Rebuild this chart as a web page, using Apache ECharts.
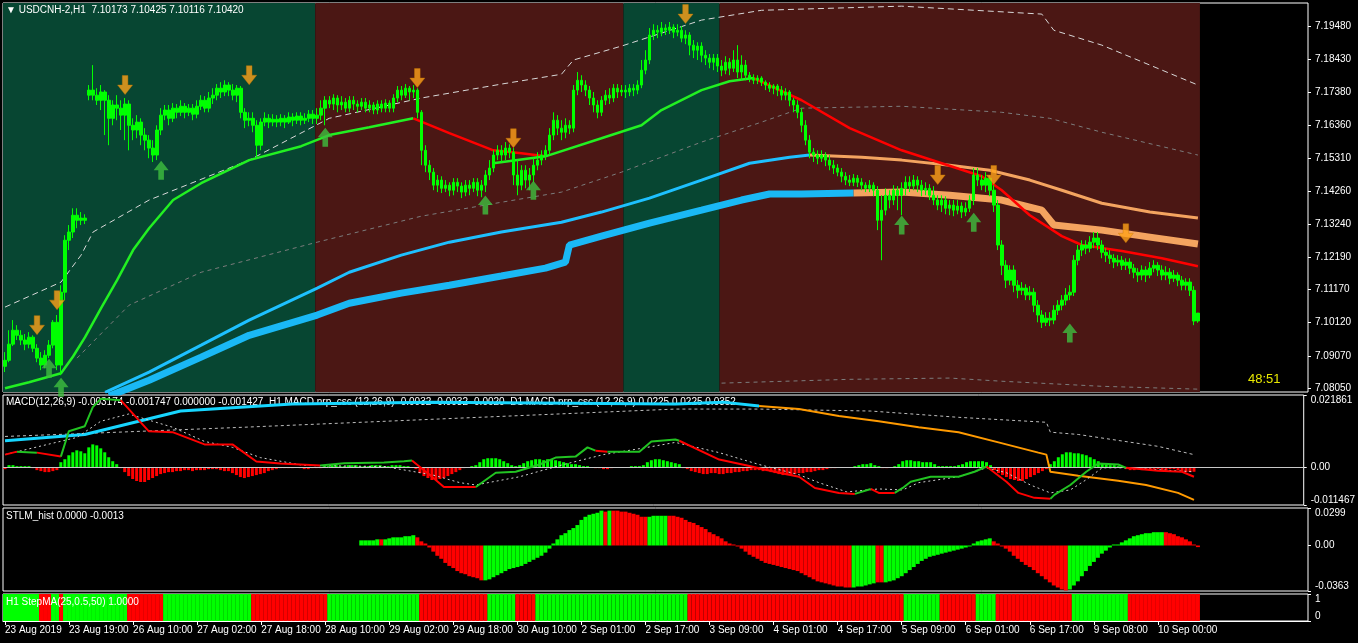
<!DOCTYPE html>
<html><head><meta charset="utf-8">
<script src="https://cdn.jsdelivr.net/npm/echarts@6/dist/echarts.min.js"></script>
<style>html,body{margin:0;padding:0;background:#000;}#c{width:1358px;height:643px;}</style>
</head><body><div id="c"></div>
<script>
// ---------------- DATA ----------------
const tickBars = [0,16,32,48,64,80,96,112,128,144,160,176,192,208,224,240,256,272,288];
const tickLabels = ['23 Aug 2019','23 Aug 19:00','26 Aug 10:00','27 Aug 02:00','27 Aug 18:00','28 Aug 10:00','29 Aug 02:00','29 Aug 18:00','30 Aug 10:00','2 Sep 01:00','2 Sep 17:00','3 Sep 09:00','4 Sep 01:00','4 Sep 17:00','5 Sep 09:00','6 Sep 01:00','6 Sep 17:00','9 Sep 08:00','10 Sep 00:00'];
const priceTicks = [7.08050,7.09070,7.10120,7.11170,7.12190,7.13240,7.14260,7.15310,7.16360,7.17380,7.18430,7.19480];
const lastPrice = 7.10420;
// H1 candles: [open, close, low, high] in 0.0001 above 7.0000
const candles = [
[874,893,856,919],[893,944,887,988],[944,988,938,1020],[988,972,957,1004],[972,957,941,988],[957,944,925,976],[944,966,931,982],[966,931,919,972],[931,900,887,944],[900,878,862,919],
[878,909,868,925],[909,941,900,957],[941,1013,931,1020],[1013,878,862,1036],[878,1108,846,1130],[1108,1272,1083,1288],[1272,1298,1241,1320],[1298,1351,1279,1373],[1351,1335,1310,1373],[1335,1342,1320,1361],
[1342,1335,1323,1354],[1730,1746,1714,1762],[1746,1730,1714,1825],[1730,1714,1699,1752],[1714,1740,1683,1762],[1740,1714,1604,1746],[1714,1657,1572,1730],[1657,1699,1635,1714],[1699,1689,1651,1730],[1689,1667,1620,1714],
[1667,1702,1588,1721],[1702,1635,1556,1714],[1635,1620,1588,1657],[1620,1645,1594,1667],[1645,1604,1572,1657],[1604,1588,1556,1626],[1588,1563,1531,1604],[1563,1541,1519,1588],[1541,1620,1525,1635],[1620,1667,1604,1689],
[1667,1683,1651,1699],[1683,1657,1635,1699],[1657,1689,1645,1705],[1689,1676,1657,1702],[1676,1695,1664,1714],[1695,1676,1657,1705],[1676,1689,1664,1702],[1689,1670,1651,1702],[1670,1695,1657,1714],[1695,1714,1683,1730],
[1714,1689,1676,1727],[1689,1721,1676,1740],[1721,1730,1702,1752],[1730,1752,1714,1765],[1752,1740,1721,1771],[1740,1762,1727,1777],[1762,1746,1727,1771],[1746,1730,1714,1765],[1730,1752,1708,1762],[1752,1676,1657,1759],
[1676,1651,1626,1689],[1651,1657,1632,1676],[1657,1635,1613,1676],[1635,1572,1531,1651],[1572,1645,1556,1657],[1645,1657,1632,1676],[1657,1645,1626,1670],[1645,1654,1632,1670],[1654,1645,1629,1667],[1645,1657,1632,1670],
[1657,1645,1626,1667],[1645,1661,1639,1676],[1661,1651,1632,1673],[1651,1664,1639,1676],[1664,1651,1635,1676],[1651,1657,1639,1673],[1657,1670,1645,1683],[1670,1657,1639,1683],[1657,1667,1639,1689],[1667,1689,1651,1714],
[1689,1714,1635,1727],[1714,1702,1689,1727],[1702,1721,1683,1733],[1721,1699,1676,1730],[1699,1708,1683,1727],[1708,1689,1676,1721],[1689,1714,1676,1727],[1714,1702,1683,1727],[1702,1695,1676,1714],[1695,1708,1683,1721],
[1708,1689,1676,1721],[1689,1699,1676,1714],[1699,1683,1670,1708],[1683,1702,1670,1714],[1702,1689,1676,1714],[1689,1705,1676,1717],[1705,1689,1676,1714],[1689,1721,1676,1733],[1721,1746,1708,1759],[1746,1730,1714,1759],
[1730,1752,1721,1765],[1752,1740,1714,1759],[1740,1746,1721,1762],[1746,1676,1657,1752],[1676,1556,1509,1683],[1556,1509,1487,1572],[1509,1487,1462,1525],[1487,1446,1430,1500],[1446,1462,1424,1478],[1462,1436,1421,1474],
[1436,1446,1424,1462],[1446,1430,1411,1455],[1430,1455,1414,1468],[1455,1443,1424,1468],[1443,1424,1405,1455],[1424,1446,1411,1462],[1446,1436,1414,1462],[1436,1455,1424,1468],[1455,1430,1411,1468],[1430,1446,1408,1462],
[1446,1478,1424,1493],[1478,1500,1462,1525],[1500,1541,1487,1556],[1541,1556,1525,1572],[1556,1541,1519,1572],[1541,1563,1525,1582],[1563,1550,1531,1575],[1550,1478,1446,1563],[1478,1446,1414,1525],[1446,1493,1430,1509],
[1493,1462,1436,1509],[1462,1478,1430,1500],[1478,1509,1455,1531],[1509,1525,1493,1550],[1525,1541,1509,1556],[1541,1556,1525,1572],[1556,1604,1541,1626],[1604,1651,1588,1676],[1651,1626,1604,1667],[1626,1613,1588,1651],
[1613,1635,1594,1657],[1635,1626,1607,1651],[1626,1746,1613,1762],[1746,1777,1730,1803],[1777,1762,1740,1793],[1762,1746,1727,1777],[1746,1721,1699,1759],[1721,1699,1676,1740],[1699,1676,1657,1714],[1676,1714,1664,1727],
[1714,1730,1699,1746],[1730,1721,1702,1752],[1721,1752,1708,1765],[1752,1740,1721,1765],[1740,1746,1727,1762],[1746,1740,1721,1762],[1740,1752,1727,1765],[1752,1746,1727,1765],[1746,1762,1733,1777],[1762,1809,1752,1841],
[1809,1841,1796,1872],[1841,1920,1828,1942],[1920,1935,1904,1954],[1935,1929,1910,1951],[1929,1942,1916,1961],[1942,1935,1920,1954],[1935,1945,1923,1961],[1945,1929,1910,1954],[1929,1935,1916,1954],[1935,1910,1897,1948],
[1910,1920,1891,1935],[1920,1888,1856,1929],[1888,1872,1847,1904],[1872,1885,1841,1897],[1885,1856,1834,1897],[1856,1847,1825,1872],[1847,1834,1815,1860],[1834,1847,1809,1860],[1847,1822,1803,1860],[1822,1809,1790,1841],
[1809,1834,1796,1853],[1834,1815,1793,1847],[1815,1841,1803,1872],[1841,1803,1784,1888],[1803,1825,1777,1856],[1825,1793,1777,1841],[1793,1784,1771,1803],[1784,1777,1765,1796],[1777,1784,1765,1793],[1784,1771,1759,1790],
[1771,1762,1746,1777],[1762,1752,1740,1771],[1752,1759,1733,1765],[1759,1746,1727,1765],[1746,1730,1714,1759],[1730,1740,1714,1752],[1740,1714,1695,1746],[1714,1699,1676,1721],[1699,1676,1657,1714],[1676,1635,1613,1689],
[1635,1588,1572,1651],[1588,1550,1531,1604],[1550,1541,1519,1563],[1541,1531,1512,1556],[1531,1541,1519,1556],[1541,1525,1506,1550],[1525,1509,1493,1541],[1509,1500,1481,1525],[1500,1487,1474,1512],[1487,1474,1455,1500],
[1474,1462,1446,1487],[1462,1455,1443,1478],[1455,1468,1443,1481],[1468,1455,1440,1478],[1455,1446,1430,1468],[1446,1436,1424,1455],[1436,1446,1424,1462],[1446,1430,1411,1455],[1430,1335,1304,1443],[1335,1367,1209,1414],
[1367,1414,1351,1436],[1414,1399,1373,1430],[1399,1430,1383,1446],[1430,1414,1367,1443],[1414,1436,1351,1455],[1436,1455,1414,1474],[1455,1443,1424,1474],[1443,1462,1430,1478],[1462,1446,1424,1474],[1446,1430,1411,1462],
[1430,1436,1414,1455],[1436,1414,1399,1449],[1414,1399,1383,1443],[1399,1383,1367,1414],[1383,1399,1361,1414],[1399,1373,1354,1411],[1373,1383,1351,1399],[1383,1367,1348,1399],[1367,1380,1354,1399],[1380,1361,1342,1392],
[1361,1373,1348,1392],[1373,1399,1361,1414],[1399,1478,1383,1500],[1478,1462,1443,1500],[1462,1446,1430,1478],[1446,1468,1424,1487],[1468,1430,1411,1478],[1430,1383,1361,1446],[1383,1257,1241,1399],[1257,1193,1162,1272],
[1193,1146,1121,1209],[1146,1178,1130,1193],[1178,1130,1108,1193],[1130,1114,1089,1146],[1114,1121,1099,1140],[1121,1099,1083,1133],[1099,1108,1083,1127],[1108,1067,1045,1121],[1067,1036,1013,1083],[1036,1013,995,1051],
[1013,1026,1001,1045],[1026,1020,1001,1045],[1020,1051,1007,1067],[1051,1067,1036,1083],[1067,1083,1051,1099],[1083,1099,1067,1121],[1099,1108,1083,1130],[1108,1209,1096,1225],[1209,1241,1193,1257],[1241,1257,1222,1272],
[1257,1247,1228,1272],[1247,1266,1234,1285],[1266,1279,1247,1298],[1279,1257,1241,1298],[1257,1234,1215,1272],[1234,1225,1203,1247],[1225,1215,1197,1241],[1215,1203,1184,1228],[1203,1209,1190,1225],[1209,1193,1178,1222],
[1193,1203,1178,1215],[1203,1184,1165,1215],[1184,1171,1152,1197],[1171,1162,1140,1184],[1162,1178,1146,1193],[1178,1162,1140,1190],[1162,1184,1152,1203],[1184,1193,1171,1209],[1193,1178,1159,1203],[1178,1162,1146,1193],
[1162,1171,1146,1190],[1171,1152,1133,1184],[1152,1162,1140,1178],[1162,1146,1127,1171],[1146,1130,1114,1159],[1130,1140,1114,1152],[1140,1114,1096,1152],[1114,1017,1004,1127],[1017.3,1042,1011.6,1042.5]
];
const zones = [[0,77,1],[78,154,0],[155,178,1],[179,298,0]];
const fastMaUp1 = [[0,805],[6,824],[14,852],[17,905],[20,966],[24,1058],[28,1146],[32,1241],[36,1310],[42,1399],[49,1452],[61,1525],[74,1569],[81,1604],[91,1629],[102,1657]];
const fastMaDn1 = [[102,1657],[111,1610],[122,1556],[129,1547],[135,1537]];
const fastMaUp2 = [[122,1515],[135,1537],[149,1594],[159,1635],[164,1683],[174,1746],[181,1774],[187,1784]];
const fastMaDn2 = [[187,1784],[199,1714],[211,1626],[224,1556],[234,1515],[244,1474],[249,1430],[256,1351],[264,1285],[269,1257],[279,1238],[289,1215],[298,1190]];
const midMaUp = [[25,792],[36,856],[49,941],[61,1020],[78,1121],[86,1171],[99,1225],[111,1266],[124,1298],[139,1329],[149,1361],[161,1405],[174,1462],[186,1515],[196,1534],[201,1541]];
const midMaDn = [[201,1541],[214,1534],[224,1525],[236,1509],[246,1493],[256,1462],[264,1430],[274,1389],[286,1361],[298,1342]];
const slowMaUp = [[26,780],[36,830],[49,903],[61,972],[78,1036],[86,1073],[99,1105],[111,1130],[124,1159],[135,1184],[140,1203],[141,1257],[149,1285],[161,1326],[174,1367],[184,1399],[191,1418],[199,1418],[212,1421]];
const slowMaDn = [[212,1421],[224,1424],[236,1414],[249,1399],[259,1367],[262,1320],[274,1304],[286,1282],[298,1260]];
const bandUpper = [[0,1061],[14,1140],[19,1225],[22,1298],[36,1399],[61,1525],[81,1657],[104,1721],[124,1765],[139,1796],[142,1841],[154,1885],[174,1967],[189,1998],[224,2011],[259,1986],[262,1935],[274,1888],[298,1762]];
const bandMid = [[18,900],[31,1067],[49,1171],[78,1266],[104,1348],[124,1392],[139,1424],[154,1487],[174,1582],[189,1645],[199,1689],[224,1695],[249,1676],[261,1657],[274,1613],[298,1541]];
const bandLower = [[179,821],[211,833],[236,837],[249,827],[274,811],[298,802]];
const sellArrows = [[8,1004],[13,1083],[30,1762],[61,1793],[103,1784],[127,1594],[170,1986],[233,1478],[247,1478],[280,1294]];
const buyArrows = [[11,868],[14,808],[39,1493],[80,1597],[120,1383],[132,1430],[224,1320],[242,1329],[266,979]];
const macdHist = [-6,6,6,3,3,3,3,-3,-9,-12,-15,-15,-12,-9,15,24,36,45,51,48,42,60,69,66,57,45,30,18,9,-3,
-15,-27,-36,-42,-45,-45,-39,-33,-27,-21,-18,-15,-15,-12,-12,-9,-9,-12,-9,-9,-9,-6,-6,-6,-9,-12,
-12,-18,-24,-30,-33,-30,-27,-24,-21,-18,-12,-9,-6,-3,-3,-3,-3,0,-3,-6,-6,-3,-3,-3,
3,3,6,6,3,3,6,6,6,3,3,3,6,6,6,3,3,6,6,6,3,3,0,
-6,-18,-27,-33,-39,-39,-36,-33,-27,-21,-15,-9,-3,0,3,6,15,24,27,27,27,24,18,12,6,3,
6,12,18,21,24,24,21,24,24,21,18,15,12,9,9,6,3,3,0,-3,-3,-6,-6,-3,0,0,0,0,3,3,3,
6,15,21,24,24,21,18,15,12,9,
-3,-6,-12,-15,-18,-21,-21,-18,-18,-21,-21,-18,-18,-15,-15,-12,-12,-9,-9,-9,-12,-12,-15,-18,-21,-24,-24,-24,-21,-18,-18,-15,-15,-12,-9,-9,-6,-3,-3,0,0,
0,0,3,6,9,9,12,6,3,-3,-3,0,3,9,18,21,21,18,18,15,15,15,9,3,3,3,3,3,6,9,15,18,18,18,18,15,6,
-9,-18,-24,-30,-36,-39,-42,-42,-36,-30,-24,-18,-12,-6,
9,18,30,39,45,45,42,42,39,36,30,24,18,12,9,6,6,3,3,
-6,-9,-9,-6,-9,-6,-9,-6,-6,-9,-9,-6,-6,-9,-12,-15,-15,-14];
const macdMain = [
['r',[[0,38],[3,47]]],['g',[[3,47],[8,44]]],['r',[[8,44],[14,32]]],
['g',[[14,32],[16,109],[20,124],[22,182],[24,207],[29,203]]],
['r',[[29,203],[36,109],[42,106],[50,69],[57,69],[63,17],[69,11],[79,5]]],
['g',[[79,5],[85,12],[95,14],[100,18],[102,20]]],
['r',[[102,20],[107,-29],[110,-60],[118,-60]]],
['g',[[118,-60],[123,-17],[128,-14],[134,8],[138,29],[143,32],[146,60],[148,50]]],
['r',[[148,50],[151,47]]],
['g',[[151,47],[159,47],[162,78],[168,84],[169,80]]],
['r',[[169,80],[179,23],[186,5],[194,-17],[199,-29],[203,-63],[209,-78],[213,-81]]],
['g',[[213,-81],[217,-66]]],['r',[[217,-66],[219,-78],[223,-78]]],
['g',[[223,-78],[225,-63],[227,-44],[232,-29],[239,-29],[243,-14],[246,2]]],
['r',[[246,2],[251,-44],[254,-78],[258,-93],[262,-96]]],
['g',[[262,-96],[263,-84],[267,-54],[271,-14],[274,11],[279,8],[281,-2]]],
['r',[[281,-2],[289,-11],[295,-14],[298,-29]]]
];
const macdSignal = [[0,38],[18,90],[24,139],[31,161],[37,139],[42,121],[50,78],[57,60],[64,29],[75,5],[95,2],[107,-23],[114,-47],[118,-54],[129,-29],[140,8],[150,38],[161,60],[168,75],[179,44],[189,8],[199,-23],[204,-47],[211,-75],[219,-66],[225,-69],[229,-47],[239,-29],[246,-2],[251,-17],[257,-54],[262,-78],[267,-69],[271,-38],[275,-2],[281,-2],[289,-8],[298,-14]];
const d1MacdUp = [[0,80],[20,99],[44,170],[72,191],[107,197],[168,191],[180,197],[189,185]];
const d1MacdDn = [[189,185],[199,176],[209,155],[219,139],[229,121],[239,106],[249,75],[259,44],[261,38],[262,-14],[269,-26],[279,-41],[286,-54],[294,-78],[298,-99]];
const d1Signal = [[0,93],[20,102],[60,121],[107,145],[168,176],[189,176],[217,170],[239,151],[261,136],[262,106],[269,99],[289,63],[298,38]];
const stlmStart = 89;
const stlmValues = [41,41,41,41,49,49,49,57,65,65,65,74,74,82,
65,33,16,-16,-49,-82,-106,-139,-163,-180,-204,-221,-229,-245,-253,-261,-278,
-278,-270,-253,-237,-221,-204,-188,-180,-172,-163,-147,-131,-114,-98,-82,-57,-25,16,49,82,98,123,139,163,204,229,245,253,261,278,
270,278,278,278,270,270,261,253,245,229,229,229,237,237,237,237,
237,237,229,221,204,188,180,163,147,131,106,90,74,57,33,16,8,
-8,-25,-49,-74,-90,-106,-123,-139,-147,-155,-163,-172,-180,-188,-196,-204,-221,-237,-253,-270,-286,-294,-302,-310,-319,-327,-327,-335,-335,
-335,-327,-327,-319,-310,-302,-294,-294,
-294,-286,-278,-261,-245,-221,-196,-172,-147,-123,-106,-90,-82,-74,-65,-57,-49,-41,-33,-25,-16,-8,16,33,41,49,57,
33,16,-8,-25,-49,-82,-106,-131,-155,-172,-196,-221,-245,-270,-294,-319,-335,-351,-359,
-351,-319,-286,-245,-204,-163,-131,-98,-65,-41,-16,8,8,25,41,57,74,82,90,98,98,106,106,106,
106,98,90,74,65,49,33,8,-13];
const stlmRuns = [['G',5],['R',1],['G',8],['R',17],['G',30],['R',1],['G',1],['R',9],['G',5],['R',46],['G',6],['R',2],['G',27],['R',19],['G',24],['R',9]];
const stepRuns = [['G',9],['R',3],['G',2],['R',1],['G',16],['R',9],['G',22],['R',19],['G',23],['R',17],['G',7],['R',5],['G',38],['R',54],['G',9],['R',9],['G',5],['R',19],['G',14],['R',18]];

// ---------------- BUILD ----------------
const FONT = 'Liberation Sans';
const N_SLOTS = 326;
const slots = Array.from({length:N_SLOTS},(_,i)=>String(i));
const tickMap = {}; tickBars.forEach((b,k)=>{tickMap[b]=tickLabels[k];});
const P = v => 7 + v/10000;
const M = v => v/10000;
const GREEN_BG = '#074632', RED_BG = '#4b1714';
const LIME = '#00ff00', RED = '#ff0000';

function line(pts, conv, color, width, z, xi, opts) {
  return Object.assign({type:'line', xAxisIndex:xi, yAxisIndex:xi, data:pts.map(p=>[p[0], conv(p[1])]),
    symbol:'none', silent:true, z:z, lineStyle:{color:color, width:width}}, opts||{});
}
function expandRuns(runs, start) {
  const out = []; let i = start;
  runs.forEach(([c,n]) => { for (let k=0;k<n;k++) out.push([i++, c]); });
  return out;
}

const series = [];
series.push({type:'custom', xAxisIndex:0, yAxisIndex:0, z:1, silent:true, data:zones, encode:{x:[0,1]},
  renderItem:(params, api) => {
    const w = api.size([1,0])[0];
    const x0 = api.coord([api.value(0), 7.1])[0] - w/2;
    const x1 = api.coord([api.value(1), 7.1])[0] + w/2;
    const cs = params.coordSys;
    return {type:'rect', shape:{x:x0, y:cs.y, width:x1-x0, height:cs.height}, style:{fill: api.value(2)===1 ? GREEN_BG : RED_BG}};
  }});
series.push(line(bandUpper, P, '#d8d8d8', 1, 3, 0, {lineStyle:{color:'#d8d8d8', width:1, type:[6,4]}}));
series.push(line(bandMid, P, '#7c7c7c', 1, 3, 0, {lineStyle:{color:'#7c7c7c', width:1, type:[4,4]}}));
series.push(line(bandLower, P, '#7c7c7c', 1, 3, 0, {lineStyle:{color:'#7c7c7c', width:1, type:[4,4]}}));
series.push(line(slowMaUp, P, '#1ab8f5', 7, 3, 0));
series.push(line(slowMaDn, P, '#f4a460', 7, 3, 0));
series.push(line(midMaUp, P, '#1ec0ff', 3, 3, 0));
series.push(line(midMaDn, P, '#f4a460', 3, 3, 0));
series.push(line(fastMaUp1, P, '#22f022', 2.5, 3, 0));
series.push(line(fastMaDn1, P, RED, 2.5, 3, 0));
series.push(line(fastMaUp2, P, '#22f022', 2.5, 3, 0));
series.push(line(fastMaDn2, P, RED, 2.5, 3, 0));
series.push({type:'candlestick', xAxisIndex:0, yAxisIndex:0, z:4, silent:true, barWidth:3,
  data:candles.map(r=>r.map(P)),
  itemStyle:{color:LIME, color0:LIME, borderColor:LIME, borderColor0:LIME, borderWidth:1},
  markLine:{silent:true, symbol:['none','none'], data:[{yAxis:lastPrice}], lineStyle:{opacity:0},
    label:{show:true, position:'end', formatter:p=>Number(p.value).toFixed(5), backgroundColor:'#ffffff', color:'#000', padding:[1,3,0,3], fontSize:10, fontFamily:FONT, distance:2}}
});
series.push({type:'scatter', xAxisIndex:0, yAxisIndex:0, z:5, silent:true, data:sellArrows.map(p=>[p[0],P(p[1])]),
  symbol:'path://M5,0 L11,0 L11,10 L16,10 L8,20 L0,10 L5,10 Z', symbolSize:[15,19], itemStyle:{color:'#ffa21a', borderColor:'#c97a00', borderWidth:0.5}});
series.push({type:'scatter', xAxisIndex:0, yAxisIndex:0, z:5, silent:true, data:buyArrows.map(p=>[p[0],P(p[1])]),
  symbol:'path://M8,0 L16,10 L11,10 L11,20 L5,20 L5,10 L0,10 Z', symbolSize:[15,19], itemStyle:{color:'#3fbf3f'}});

series.push({type:'bar', xAxisIndex:1, yAxisIndex:1, z:3, silent:true, barWidth:3,
  data:macdHist.map((v,i)=>({value:[i, M(v)], itemStyle:{color: v>=0 ? LIME : RED}})),
  markLine:{silent:true, symbol:['none','none'], data:[{yAxis:0}], label:{show:false}, lineStyle:{color:'#c8c8c8', width:1, type:'solid'}}
});
series.push(line(d1Signal, M, '#bdbdbd', 1, 3, 1, {lineStyle:{color:'#bdbdbd', width:1, type:[3,3]}}));
series.push(line(d1MacdUp, M, '#17d6ff', 3, 3, 1));
series.push(line(d1MacdDn, M, '#ff9a00', 2, 3, 1));
series.push(line(macdSignal, M, '#d0d0d0', 1, 4, 1, {lineStyle:{color:'#d0d0d0', width:1, type:[2,3]}}));
macdMain.forEach(([c, pts]) => series.push(line(pts, M, c==='g' ? '#22c322' : RED, 2, 5, 1)));

const stlmCols = expandRuns(stlmRuns, stlmStart);
series.push({type:'bar', xAxisIndex:2, yAxisIndex:2, z:3, silent:true, barCategoryGap:'0%', barWidth:'100%',
  data:stlmValues.map((v,k)=>({value:[stlmCols[k][0], M(v)], itemStyle:{color: stlmCols[k][1]==='G' ? LIME : RED}}))});

series.push({type:'bar', xAxisIndex:3, yAxisIndex:3, z:3, silent:true, barCategoryGap:'0%', barWidth:'100%',
  data:expandRuns(stepRuns, 0).map(([i,c])=>({value:[i,1], itemStyle:{color: c==='G' ? LIME : RED}}))});

const grids = [
  {left:3, right:50, top:3, height:389},
  {left:3, right:50, top:395, height:110},
  {left:3, right:50, top:508, height:83},
  {left:3, right:50, top:594, height:27}
].map(g => Object.assign(g, {show:true, backgroundColor:'#000', borderColor:'#ffffff', borderWidth:1, containLabel:false}));

const xAxes = [0,1,2,3].map(g => ({
  type:'category', gridIndex:g, data:slots, boundaryGap:true, show: g===3,
  axisLine:{show:true, lineStyle:{color:'#ffffff'}},
  axisTick:{show:true, interval:(i)=>tickMap[i]!==undefined, alignWithLabel:true, length:4, lineStyle:{color:'#ffffff'}},
  axisLabel:{interval:(i)=>tickMap[i]!==undefined, formatter:(v)=>tickMap[+v]||'', color:'#ffffff', fontSize:10, fontFamily:FONT, align:'left', margin:4},
  splitLine:{show:false}
}));

function yAx(g, min, max, vals, fmt, edgeAlign) {
  const lab = {customValues:vals, formatter:fmt, color:'#ffffff', fontSize:10, fontFamily:FONT, margin:7};
  if (edgeAlign) { lab.verticalAlignMaxLabel = 'top'; lab.verticalAlignMinLabel = 'bottom'; }
  return {type:'value', gridIndex:g, position:'right', min:min, max:max, scale:true,
    splitLine:{show:false}, axisLine:{show:false},
    axisTick:{show:true, customValues:vals, length:3, lineStyle:{color:'#ffffff'}},
    axisLabel:lab};
}
const yAxes = [
  yAx(0, 7.0793, 7.2021, priceTicks, v=>v.toFixed(5), false),
  yAx(1, -0.011467, 0.021861, [-0.011467, 0, 0.021861], v=> v===0 ? '0.00' : v.toFixed(6), true),
  yAx(2, -0.0363, 0.0299, [-0.0363, 0, 0.0299], v=> v===0 ? '0.00' : v.toFixed(4), true),
  yAx(3, 0, 1, [0, 1], v=>String(v), true)
];

const tStyle = {color:'#ffffff', fontSize:10, fontWeight:'normal', fontFamily:FONT};
const option = {
  backgroundColor:'#000', animation:false, textStyle:{fontFamily:FONT},
  title:[
    {text:'▼ USDCNH-2,H1  7.10173 7.10425 7.10116 7.10420', left:6, top:5, padding:0, z:2, textStyle:tStyle},
    {text:'MACD(12,26,9) -0.003174 -0.001747 0.000000 -0.001427  H1 MACD nrp_csc (12,26,9) -0.0032 -0.0032 -0.0020  D1 MACD nrp_csc (12,26,9) 0.0225 0.0225 0.0352', left:6, top:397, padding:0, z:2, textStyle:tStyle},
    {text:'STLM_hist 0.0000 -0.0013', left:6, top:511, padding:0, z:2, textStyle:tStyle},
    {text:'H1 StepMA(25,0.5,50) 1.0000', left:6, top:597, padding:0, z:6, textStyle:tStyle}
  ],
  graphic:[{type:'text', left:1248, top:373, z:10, style:{text:'48:51', fill:'#e8e800', font:'13px "Liberation Sans"'}}],
  grid:grids, xAxis:xAxes, yAxis:yAxes, series:series
};
const chart = echarts.init(document.getElementById('c'), null, {renderer:'canvas'});
chart.setOption(option);
</script></body></html>
